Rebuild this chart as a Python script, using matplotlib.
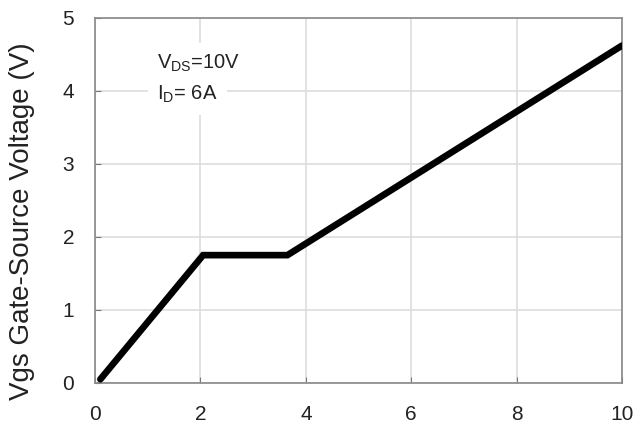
import matplotlib.pyplot as plt

# gate charge curve
qg = [0.1, 2.05, 3.65, 10.0]
vgs = [0.05, 1.75, 1.75, 4.62]

xticks = [0, 2, 4, 6, 8, 10]
yticks = [0, 1, 2, 3, 4, 5]

plt.rcParams['font.family'] = ['Liberation Sans', 'DejaVu Sans']

fig = plt.figure(figsize=(6.34, 4.25), dpi=100)
ax = fig.add_axes([0.150, 0.099, 0.831, 0.859])

ax.plot(qg, vgs, color='black', linewidth=4.8, solid_capstyle='round', solid_joinstyle='miter', zorder=3)

ax.set_xlim(0, 10)
ax.set_ylim(0, 5)
ax.set_xticks(xticks)
ax.set_yticks(yticks)
ax.tick_params(direction='in', length=4, color='#777777', labelsize=15, labelcolor='#222222')
ax.tick_params(axis='x', pad=16)
ax.tick_params(axis='y', pad=15)
ax.grid(True, color='#dddddd', linewidth=1.2)
ax.set_axisbelow(True)
for s in ax.spines.values():
    s.set_color('#888888')
    s.set_linewidth(1.2)

fig.text(22 / 634, 1 - 221 / 425, 'Vgs Gate-Source Voltage (V)', fontsize=20,
         rotation=90, ha='center', va='center', color='#222222')

box = dict(facecolor='white', edgecolor='none', pad=7)
ax.text(1.18, 4.38, r'V$_\mathregular{DS}$=10V', fontsize=14.5, va='center', ha='left',
        color='#222222', bbox=box, zorder=4)
ax.text(1.18, 3.95, r'I$_\mathregular{D}$= 6A', fontsize=14.5, va='center', ha='left',
        color='#222222', bbox=box, zorder=4)

plt.savefig('out.png')
